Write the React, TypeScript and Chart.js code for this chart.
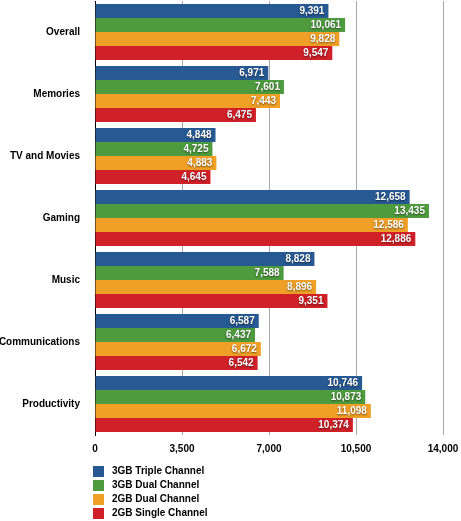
import React, { useEffect, useRef } from "react";
import { Chart, registerables } from "chart.js";

Chart.register(...registerables);

const categories = ["Overall", "Memories", "TV and Movies", "Gaming", "Music", "Communications", "Productivity"];
const seriesNames = ["3GB Triple Channel", "3GB Dual Channel", "2GB Dual Channel", "2GB Single Channel"];
const triple3GB = [9391, 6971, 4848, 12658, 8828, 6587, 10746];
const dual3GB = [10061, 7601, 4725, 13435, 7588, 6437, 10873];
const dual2GB = [9828, 7443, 4883, 12586, 8896, 6672, 11098];
const single2GB = [9547, 6475, 4645, 12886, 9351, 6542, 10374];
const seriesColors = ["#275a92", "#4e9b3e", "#f0a026", "#d02028"];
const xTicks = [0, 3500, 7000, 10500, 14000];

const FONT = '"Liberation Sans", Arial, Helvetica, sans-serif';

const fmt = (v: number) => v.toLocaleString("en-US");

const valueLabels = {
  id: "valueLabels",
  afterDatasetsDraw(chart: any) {
    const ctx = chart.ctx;
    ctx.save();
    ctx.font = `bold 10px ${FONT}`;
    ctx.textAlign = "right";
    ctx.textBaseline = "middle";
    ctx.fillStyle = "#ffffff";
    ctx.shadowColor = "rgba(0,0,0,0.55)";
    ctx.shadowBlur = 2;
    ctx.shadowOffsetX = 0;
    ctx.shadowOffsetY = 1;
    chart.data.datasets.forEach((ds: any, di: number) => {
      const meta = chart.getDatasetMeta(di);
      meta.data.forEach((bar: any, i: number) => {
        ctx.fillText(fmt(ds.data[i]), bar.x - 4, bar.y + 0.5);
      });
    });
    ctx.restore();
  },
};

const bottomLegend = {
  id: "bottomLegend",
  afterDraw(chart: any) {
    const ctx = chart.ctx;
    ctx.save();
    ctx.font = `bold 10px ${FONT}`;
    ctx.textAlign = "left";
    ctx.textBaseline = "middle";
    chart.data.datasets.forEach((ds: any, i: number) => {
      const y = 471 + i * 14;
      ctx.fillStyle = ds.backgroundColor;
      ctx.fillRect(93, y - 5, 11, 11);
      ctx.fillStyle = "#000";
      ctx.fillText(ds.label, 112, y + 0.5);
    });
    ctx.restore();
  },
};

const zeroPad = (scale: any) => {
  scale.paddingLeft = 0;
  scale.paddingRight = 0;
  scale.paddingTop = 0;
  scale.paddingBottom = 0;
};

export default function App() {
  const ref = useRef<HTMLCanvasElement | null>(null);
  useEffect(() => {
    document.body.style.margin = "0";
    const seriesData = [triple3GB, dual3GB, dual2GB, single2GB];
    const chart = new Chart(ref.current!, {
      type: "bar",
      data: {
        labels: categories,
        datasets: seriesNames.map((name, i) => ({
          label: name,
          data: seriesData[i],
          backgroundColor: seriesColors[i],
          borderWidth: 0,
          categoryPercentage: 0.903,
          barPercentage: 1,
        })),
      },
      options: {
        indexAxis: "y",
        responsive: false,
        animation: false,
        layout: { padding: { top: 1, right: 18, bottom: 60, left: 0 } },
        plugins: { legend: { display: false }, tooltip: { enabled: false } },
        scales: {
          x: {
            min: 0,
            max: 14000,
            afterBuildTicks: (scale: any) => {
              scale.ticks = xTicks.map((v) => ({ value: v }));
            },
            afterFit: (scale: any) => {
              scale.height = 26;
              zeroPad(scale);
            },
            ticks: {
              callback: (v: any) => fmt(Number(v)),
              font: { family: FONT, size: 10, weight: "bold" },
              color: "#000",
              padding: 8,
              maxRotation: 0,
            },
            grid: { color: "#a8a8a8", lineWidth: 1, drawTicks: false },
            border: { display: false },
          },
          y: {
            afterFit: (scale: any) => {
              scale.width = 95;
              zeroPad(scale);
            },
            ticks: {
              font: { family: FONT, size: 10, weight: "bold" },
              color: "#000",
              padding: 15,
            },
            grid: { display: true, color: "rgba(0,0,0,0)", drawTicks: false },
            border: { display: true, color: "#000", width: 1 },
          },
        },
      },
      plugins: [valueLabels, bottomLegend],
    } as any);
    return () => chart.destroy();
  }, []);
  return <canvas ref={ref} width={461} height={521} style={{ display: "block" }} />;
}
